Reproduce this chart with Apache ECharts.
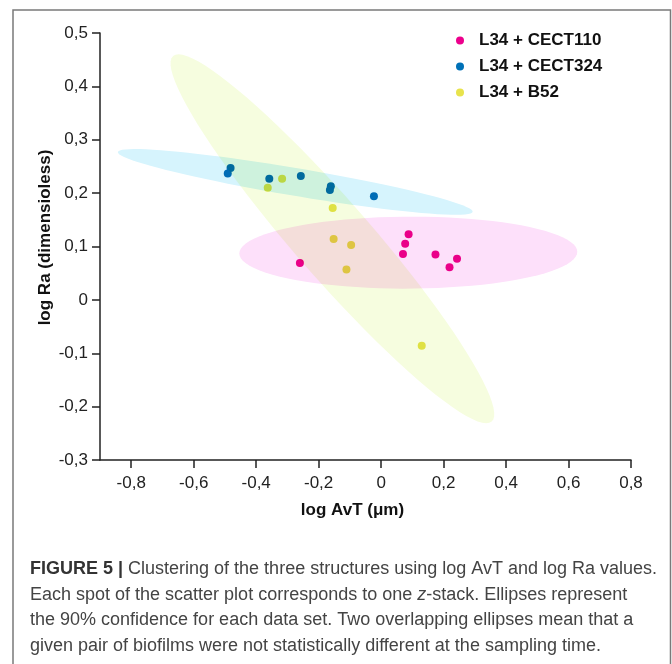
<!DOCTYPE html>
<html>
<head>
<meta charset="utf-8">
<script src="https://cdn.jsdelivr.net/npm/echarts@6/dist/echarts.min.js"></script>
<style>
html, body { margin: 0; padding: 0; background: #fff; }
#main { width: 672px; height: 664px; }
</style>
</head>
<body>
<div id="main"></div>
<script>
// log AvT / log Ra per z-stack
const seriesNames = ['L34 + CECT110', 'L34 + CECT324', 'L34 + B52']
const cect110 = [[-0.260, 0.069], [0.088, 0.123], [0.077, 0.105], [0.070, 0.086], [0.174, 0.085], [0.243, 0.077], [0.219, 0.061]]
const cect324 = [[-0.491, 0.237], [-0.482, 0.247], [-0.358, 0.227], [-0.257, 0.232], [-0.161, 0.213], [-0.164, 0.206], [-0.023, 0.194]]
const b52 = [[-0.363, 0.210], [-0.317, 0.227], [-0.155, 0.172], [-0.152, 0.114], [-0.096, 0.103], [-0.111, 0.057], [0.130, -0.086]]

// 90% confidence ellipses: tip A (x, y), tip B (x, y), minor/major ratio
const ellipse110 = [-0.454, 0.087, 0.628, 0.090, 0.213]
const ellipse324 = [-0.843, 0.277, 0.293, 0.165, 0.077]
const ellipseB52 = [-0.666, 0.457, 0.354, -0.228, 0.157]

const xTicks = [-0.8, -0.6, -0.4, -0.2, 0, 0.2, 0.4, 0.6, 0.8]

const colors = ['#ec008c', '#0071b7', '#e8e34c']
const fills = ['#fde0fa', '#d6f4fd', '#f6fddf']

const fmt = v => Math.abs(v) < 1e-9 ? '0' : v.toFixed(1).replace('.', ',')

function ellipseItem (params, api) {
  const p1 = api.coord([api.value(0), api.value(1)])
  const p2 = api.coord([api.value(2), api.value(3)])
  const cx = (p1[0] + p2[0]) / 2
  const cy = (p1[1] + p2[1]) / 2
  const dx = p2[0] - p1[0]
  const dy = p2[1] - p1[1]
  const a = Math.sqrt(dx * dx + dy * dy) / 2
  const b = a * api.value(4)
  const ang = Math.atan2(dy, dx)
  const pts = []
  for (let i = 0; i < 90; i++) {
    const t = i / 90 * Math.PI * 2
    pts.push([
      cx + a * Math.cos(t) * Math.cos(ang) - b * Math.sin(t) * Math.sin(ang),
      cy + a * Math.cos(t) * Math.sin(ang) + b * Math.sin(t) * Math.cos(ang)
    ])
  }
  return {
    type: 'polygon',
    shape: { points: pts },
    style: { fill: fills[params.seriesIndex - 3] }
  }
}

const chart = echarts.init(document.getElementById('main'))
const axisFont = { fontFamily: 'Liberation Sans', fontSize: 17, color: '#222' }
const titleFont = { fontFamily: 'Liberation Sans', fontSize: 17, fontWeight: 'bold', color: '#111' }

chart.setOption({
  animation: false,
  grid: { left: 100, right: 41, top: 33, bottom: 204 },
  legend: {
    data: seriesNames,
    orient: 'vertical',
    left: 451,
    top: 27,
    icon: 'circle',
    itemWidth: 8,
    itemHeight: 8,
    itemGap: 9,
    selectedMode: false,
    textStyle: { fontFamily: 'Liberation Sans', fontSize: 17, fontWeight: 'bold', color: '#111', lineHeight: 16, padding: [0, 0, 0, 10] }
  },
  xAxis: {
    type: 'value',
    min: -0.9,
    max: 0.8,
    splitLine: { show: false },
    axisLine: { onZero: false, lineStyle: { color: '#222', width: 1.5 } },
    axisTick: { length: 8, customValues: xTicks, lineStyle: { color: '#222', width: 1.5 } },
    axisLabel: Object.assign({ customValues: xTicks, margin: 15, formatter: fmt }, axisFont),
    name: 'log AvT (μm)',
    nameLocation: 'middle',
    nameGap: 42,
    nameMoveOverlap: false,
    nameTextStyle: Object.assign({ padding: [0, 26, 0, 0] }, titleFont)
  },
  yAxis: {
    type: 'value',
    min: -0.3,
    max: 0.5,
    interval: 0.1,
    splitLine: { show: false },
    axisLine: { show: true, onZero: false, lineStyle: { color: '#222', width: 1.5 } },
    axisTick: { show: true, length: 8, lineStyle: { color: '#222', width: 1.5 } },
    axisLabel: Object.assign({ margin: 12, formatter: fmt }, axisFont),
    name: 'log Ra (dimensioless)',
    nameLocation: 'middle',
    nameGap: 46,
    nameMoveOverlap: false,
    nameTextStyle: Object.assign({ padding: [0, 0, 0, 18] }, titleFont)
  },
  series: [
    { name: seriesNames[0], type: 'scatter', data: cect110, symbolSize: 8, itemStyle: { color: colors[0], opacity: 1 }, z: 2 },
    { name: seriesNames[1], type: 'scatter', data: cect324, symbolSize: 8, itemStyle: { color: colors[1], opacity: 1 }, z: 2 },
    { name: seriesNames[2], type: 'scatter', data: b52, symbolSize: 8, itemStyle: { color: colors[2], opacity: 1 }, z: 2 },
    { name: 'ellipse110', type: 'custom', renderItem: ellipseItem, data: [ellipse110], silent: true, blendMode: 'multiply', z: 3 },
    { name: 'ellipse324', type: 'custom', renderItem: ellipseItem, data: [ellipse324], silent: true, blendMode: 'multiply', z: 3 },
    { name: 'ellipseB52', type: 'custom', renderItem: ellipseItem, data: [ellipseB52], silent: true, blendMode: 'multiply', z: 3 }
  ],
  graphic: [
    {
      type: 'rect',
      shape: { x: 13, y: 10, width: 657.5, height: 700 },
      style: { fill: null, stroke: '#7a7a7a', lineWidth: 1.5 },
      silent: true
    },
    {
      type: 'text',
      left: 30,
      top: 556,
      style: {
        text: '{b|FIGURE 5 |} Clustering of the three structures using log AvT and log Ra values.\n' +
          'Each spot of the scatter plot corresponds to one {i|z}-stack. Ellipses represent\n' +
          'the 90% confidence for each data set. Two overlapping ellipses mean that a\n' +
          'given pair of biofilms were not statistically different at the sampling time.',
        fontFamily: 'Liberation Sans',
        fontSize: 18,
        lineHeight: 25.7,
        fill: '#444',
        rich: {
          b: { fontFamily: 'Liberation Sans', fontSize: 18, fontWeight: 'bold', fill: '#333', lineHeight: 25.7 },
          i: { fontFamily: 'Liberation Sans', fontSize: 18, fontStyle: 'italic', fill: '#444', lineHeight: 25.7 }
        }
      }
    }
  ]
})
</script>
</body>
</html>
